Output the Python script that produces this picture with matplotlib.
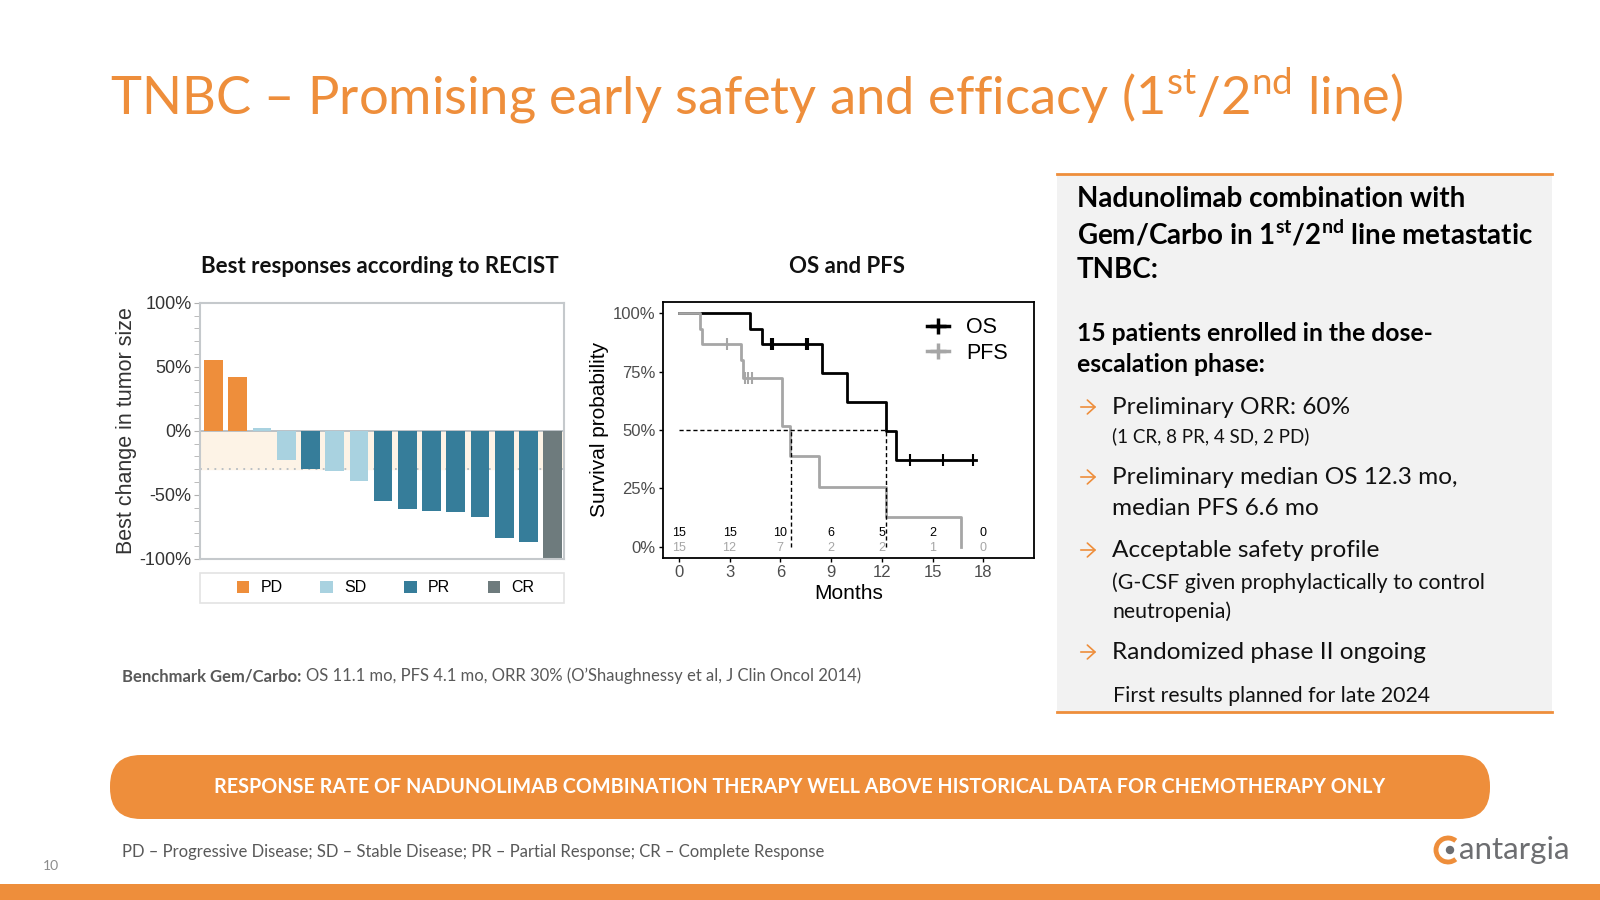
import numpy as np
import matplotlib.pyplot as plt
from matplotlib.patches import Rectangle, FancyBboxPatch, Arc, Circle, Patch
from matplotlib.lines import Line2D

plt.rcParams['font.family'] = ['Lato', 'DejaVu Sans']
plt.rcParams['mathtext.fontset'] = 'custom'
plt.rcParams['mathtext.rm'] = 'Lato'
plt.rcParams['mathtext.bf'] = 'Lato:bold'

orange = '#EE8E3B'
chart_font = ['Liberation Sans', 'DejaVu Sans']

# waterfall: best change in tumor size per patient
change = [55, 42, 2, -23, -30, -31, -39, -55, -61, -62.5, -63, -67, -84, -87, -100]
response = ['PD', 'PD', 'SD', 'SD', 'PR', 'SD', 'SD', 'PR', 'PR', 'PR', 'PR', 'PR', 'PR', 'PR', 'CR']
resp_names = ['PD', 'SD', 'PR', 'CR']
resp_colors = {'PD': '#EE8E3B', 'SD': '#A9D2E0', 'PR': '#367D9A', 'CR': '#6E7B7D'}

# Kaplan-Meier curves (months, %)
os_time = [0, 4.2, 4.9, 8.45, 9.95, 12.27, 12.82, 17.6]
os_surv = [100, 93.3, 86.7, 74.3, 61.9, 49.5, 37.1, 37.1]
os_cens_t = [5.45, 5.6, 7.5, 7.66, 13.65, 15.6, 17.4]
os_cens_s = [86.7, 86.7, 86.7, 86.7, 37.1, 37.1, 37.1]
pfs_time = [0, 1.26, 1.4, 3.68, 3.82, 6.08, 6.6, 8.3, 12.27, 16.68]
pfs_surv = [100, 93.3, 86.7, 80, 72.2, 51.6, 38.7, 25.8, 12.9, 0]
pfs_cens_t = [2.84, 3.9, 4.1, 4.3]
pfs_cens_s = [86.7, 72.2, 72.2, 72.2]
os_median = 12.27
pfs_median = 6.64
risk_times = [0, 3, 6, 9, 12, 15, 18]
os_risk = [15, 15, 10, 6, 5, 2, 0]
pfs_risk = [15, 12, 7, 2, 2, 1, 0]

fig = plt.figure(figsize=(16, 9), dpi=100)
bg = fig.add_axes([0, 0, 1, 1])
bg.set_xlim(0, 1600)
bg.set_ylim(900, 0)
bg.axis('off')

# title
bg.text(110, 114, r'TNBC – Promising early safety and efficacy (1$^{\mathrm{st}}$/2$^{\mathrm{nd}}$ line)',
        color=orange, fontsize=37.8, va='baseline')

# chart titles
bg.text(380, 273, 'Best responses according to RECIST', fontsize=16, fontweight='bold',
        ha='center', va='baseline', color='#111111')
bg.text(847, 273, 'OS and PFS', fontsize=16, fontweight='bold', ha='center', va='baseline', color='#111111')

# right box
bg.add_patch(Rectangle((1057, 174), 495, 538, facecolor='#F2F2F2', edgecolor='none'))
bg.plot([1057, 1552], [174, 174], color=orange, lw=2)
bg.plot([1057, 1552], [712, 712], color=orange, lw=2)

tx = 1077
bg.text(tx, 207, 'Nadunolimab combination with', fontsize=20, fontweight='bold', va='baseline')
bg.text(tx, 244, r'Gem/Carbo in 1$^{\mathbf{st}}$/2$^{\mathbf{nd}}$ line metastatic', fontsize=20,
        fontweight='bold', va='baseline')
bg.text(tx, 278, 'TNBC:', fontsize=20, fontweight='bold', va='baseline')
bg.text(tx, 341, '15 patients enrolled in the dose-', fontsize=17.8, fontweight='bold', va='baseline')
bg.text(tx, 372, 'escalation phase:', fontsize=17.8, fontweight='bold', va='baseline')

bx = 1112
bullets = [(414, 'Preliminary ORR: 60%'), (484, 'Preliminary median OS 12.3 mo,'),
           (557, 'Acceptable safety profile'), (659, 'Randomized phase II ongoing')]
for y, s in bullets:
    bg.text(bx, y, s, fontsize=17.6, va='baseline', color='#111111')
    bg.annotate('', xy=(1099, y - 7), xytext=(1078, y - 7),
                arrowprops=dict(arrowstyle='->,head_length=0.55,head_width=0.5', color=orange, lw=1.2))
bg.text(bx, 442, '(1 CR, 8 PR, 4 SD, 2 PD)', fontsize=13.5, va='baseline', color='#111111')
bg.text(bx, 515, 'median PFS 6.6 mo', fontsize=17.6, va='baseline', color='#111111')
bg.text(bx, 589, '(G-CSF given prophylactically to control', fontsize=15.3, va='baseline', color='#111111')
bg.text(bx, 618, 'neutropenia)', fontsize=15.3, va='baseline', color='#111111')
bg.text(bx + 1, 702, 'First results planned for late 2024', fontsize=15.3, va='baseline', color='#111111')

# benchmark note: bold lead-in, then regular text placed after it
lead = bg.text(122, 681, 'Benchmark Gem/Carbo:', fontsize=12, fontweight='bold', va='baseline', color='#595959')
renderer = fig.canvas.get_renderer()
lead_end = bg.transData.inverted().transform(lead.get_window_extent(renderer))[1][0]
bg.text(lead_end + 5, 681, 'OS 11.1 mo, PFS 4.1 mo, ORR 30% (O’Shaughnessy et al, J Clin Oncol 2014)',
        fontsize=12, va='baseline', color='#595959')

# banner
bg.add_patch(FancyBboxPatch((110, 755), 1380, 64, boxstyle='round,pad=0,rounding_size=31',
                            facecolor=orange, edgecolor='none'))
bg.text(800, 787, 'RESPONSE RATE OF NADUNOLIMAB COMBINATION THERAPY WELL ABOVE HISTORICAL DATA FOR CHEMOTHERAPY ONLY',
        fontsize=14.2, fontweight='bold', color='white', ha='center', va='center')

# footer
bg.text(122, 857, 'PD – Progressive Disease; SD – Stable Disease; PR – Partial Response; CR – Complete Response',
        fontsize=12, va='baseline', color='#595959')
bg.text(43, 870, '10', fontsize=10, va='baseline', color='#8C8C8C')
bg.add_patch(Rectangle((0, 884), 1600, 16, facecolor=orange, edgecolor='none'))

# logo
bg.add_patch(Arc((1448, 850), 24, 24, theta1=50, theta2=310, color=orange, lw=3.5))
bg.add_patch(Circle((1450, 850), 3.5, color='#6D6E71'))
bg.text(1459, 859, 'antargia', fontsize=22.5, color='#6D6E71', va='baseline')

# legend frame under the waterfall
bg.add_patch(Rectangle((200, 573), 364, 30, facecolor='white', edgecolor='#E3E3E3', lw=1.2))

# waterfall chart
ax1 = fig.add_axes([200 / 1600, 1 - 559 / 900, 364 / 1600, 256.3 / 900])
x = np.arange(len(change))
ax1.axhspan(-30, 0, color='#FDF3E6', zorder=0)
ax1.axhline(-30, color='#B5BCC2', ls=(0, (1, 3)), lw=1.3, zorder=1)
ax1.axhline(0, color='#B5BCC2', lw=1.3, zorder=1)
ax1.bar(x, change, width=0.77, color=[resp_colors[r] for r in response], zorder=2)
ax1.set_xlim(-0.56, 14.47)
ax1.set_ylim(-100, 100)
ax1.set_xticks([])
ax1.set_yticks([-100, -50, 0, 50, 100])
ax1.set_yticklabels(['-100%', '-50%', '0%', '50%', '100%'], fontsize=13, color='#333333', family=chart_font)
ax1.set_yticks(np.arange(-100, 101, 10), minor=True)
ax1.tick_params(axis='y', which='both', length=4, color='#B0B0B0', pad=2)
for sp in ax1.spines.values():
    sp.set_color('#C5C9CC')
    sp.set_linewidth(1.5)
ax1.set_ylabel('Best change in tumor size', fontsize=15.5, color='#333333', family=chart_font, labelpad=2)
handles = [Patch(facecolor=resp_colors[r], edgecolor='none', label=r) for r in resp_names]
ax1.legend(handles=handles, loc='center', bbox_to_anchor=(0.51, -0.113), ncol=4, frameon=False,
           handlelength=0.8, handleheight=0.8, handletextpad=0.7, columnspacing=2.35,
           prop={'family': chart_font, 'size': 11.5})

# KM chart
ax2 = fig.add_axes([662.7 / 1600, 1 - 557.7 / 900, 371.3 / 1600, 256 / 900])
ax2.step(os_time, os_surv, where='post', color='black', lw=2)
ax2.step(pfs_time, pfs_surv, where='post', color='#A6A6A6', lw=2)
ax2.plot(os_cens_t, os_cens_s, ls='none', marker='|', ms=8, mew=1.5, color='black')
ax2.plot(pfs_cens_t, pfs_cens_s, ls='none', marker='|', ms=8, mew=1.5, color='#A6A6A6')
ax2.plot([0, os_median], [50, 50], color='black', ls=(0, (3, 2)), lw=1)
ax2.plot([pfs_median, pfs_median], [0, 50], color='black', ls=(0, (3, 2)), lw=1)
ax2.plot([os_median, os_median], [0, 50], color='black', ls=(0, (3, 2)), lw=1)
for t, a, b in zip(risk_times, os_risk, pfs_risk):
    ax2.text(t, 5.7, str(a), ha='center', va='center', fontsize=9, color='black', family=chart_font)
    ax2.text(t, -0.7, str(b), ha='center', va='center', fontsize=9, color='#A6A6A6', family=chart_font)
ax2.set_xlim(-0.95, 21)
ax2.set_ylim(-4.7, 105)
ax2.set_xticks(risk_times)
ax2.set_xticklabels([str(t) for t in risk_times], fontsize=12, color='#4D4D4D', family=chart_font)
ax2.set_yticks([0, 25, 50, 75, 100])
ax2.set_yticklabels(['0%', '25%', '50%', '75%', '100%'], fontsize=12, color='#4D4D4D', family=chart_font)
ax2.tick_params(length=3, width=1, pad=2)
for sp in ax2.spines.values():
    sp.set_linewidth(1.3)
ax2.set_xlabel('Months', fontsize=15, family=chart_font, labelpad=3)
ax2.set_ylabel('Survival probability', fontsize=15, family=chart_font, labelpad=3)
km_handles = [Line2D([], [], color='black', marker='+', ms=11, mew=2.5, lw=2.5, label='OS'),
              Line2D([], [], color='#A6A6A6', marker='+', ms=11, mew=2.5, lw=2.5, label='PFS')]
ax2.legend(handles=km_handles, loc='upper left', bbox_to_anchor=(0.66, 1.015), frameon=False,
           handlelength=1.0, handletextpad=0.8, labelspacing=0.2, prop={'family': chart_font, 'size': 15.5})

fig.savefig('out.png', dpi=100)
